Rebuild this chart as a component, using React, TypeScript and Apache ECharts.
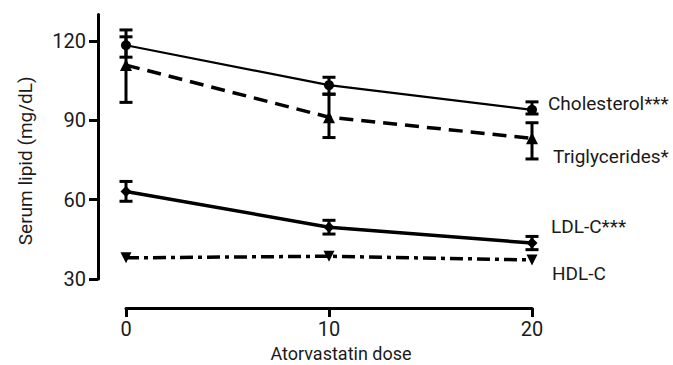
import React, { useEffect, useRef } from "react";
import * as echarts from "echarts";

const doses = [0, 10, 20];
const yTicks = [30, 60, 90, 120];

const cholesterol = [118.4, 103.3, 94.0];
const cholesterolLow = [113.9, 99.9, 92.4];
const cholesterolHigh = [124.2, 106.3, 97.0];

const triglycerides = [110.9, 91.2, 83.2];
const triglyceridesLow = [96.8, 83.5, 75.4];
const triglyceridesHigh = [121.6, 99.9, 89.1];

const ldl = [63.1, 49.6, 43.6];
const ldlLow = [59.4, 47.0, 41.1];
const ldlHigh = [66.9, 52.2, 46.1];

const hdl = [38.0, 38.6, 37.2];

const seriesNames = ["Cholesterol***", "Triglycerides*", "LDL-C***", "HDL-C"];

const FONT = "Roboto, 'Noto Sans', sans-serif";

function lineData(values: number[], name: string, offset: number[]) {
  return values.map((v, i) => {
    const item: any = { value: [doses[i], v] };
    if (i === values.length - 1) {
      item.label = {
        show: true,
        position: "right",
        distance: 0,
        offset,
        formatter: name,
        color: "#1a1a1a",
        fontSize: 19,
        fontFamily: FONT,
      };
    }
    return item;
  });
}

function errData(low: number[], high: number[]) {
  return low.map((l, i) => [doses[i], l, high[i]]);
}

const errorRender = (params: any, api: any) => {
  const x = api.value(0);
  const lo = api.value(1);
  const hi = api.value(2);
  const pHi = api.coord([x, hi]);
  const pLo = api.coord([x, lo]);
  const w = 6.5;
  const st = { stroke: "#000", lineWidth: 3 };
  return {
    type: "group",
    children: [
      { type: "line", shape: { x1: pHi[0], y1: pHi[1], x2: pLo[0], y2: pLo[1] }, style: st },
      { type: "line", shape: { x1: pHi[0] - w, y1: pHi[1], x2: pHi[0] + w, y2: pHi[1] }, style: st },
      { type: "line", shape: { x1: pLo[0] - w, y1: pLo[1], x2: pLo[0] + w, y2: pLo[1] }, style: st },
    ],
  };
};

function errSeries(low: number[], high: number[]) {
  return {
    type: "custom",
    renderItem: errorRender,
    data: errData(low, high),
    encode: { x: 0, y: [1, 2] },
    z: 3,
    silent: true,
  };
}

export default function App() {
  const ref = useRef<HTMLDivElement>(null);
  useEffect(() => {
    if (!ref.current) return;
    const chart = echarts.init(ref.current, undefined, { renderer: "svg" });
    const option: any = {
      animation: false,
      backgroundColor: "#ffffff",
      grid: { left: 126, right: 141, top: 14.6, bottom: 86, containLabel: false, outerBoundsMode: "none" },
      xAxis: {
        type: "value",
        min: 0,
        max: 20,
        interval: 10,
        offset: 29,
        axisLine: { show: true, onZero: false, lineStyle: { color: "#000", width: 3 } },
        axisTick: { show: true, length: 9, lineStyle: { color: "#000", width: 3 } },
        axisLabel: { color: "#1a1a1a", fontSize: 20, fontFamily: FONT, margin: 11 },
        splitLine: { show: false },
        name: "Atorvastatin dose",
        nameLocation: "middle",
        nameGap: 36,
        nameMoveOverlap: false,
        nameTextStyle: { color: "#1a1a1a", fontSize: 18, fontFamily: FONT, padding: [0, 0, 0, 24] },
      },
      yAxis: {
        type: "value",
        min: 30,
        max: 130,
        interval: 30,
        offset: 28,
        axisLine: { show: true, onZero: false, lineStyle: { color: "#000", width: 3 } },
        axisTick: { show: true, length: 9, customValues: yTicks, lineStyle: { color: "#000", width: 3 } },
        axisLabel: { color: "#1a1a1a", fontSize: 20, fontFamily: FONT, margin: 12, customValues: yTicks },
        splitLine: { show: false },
        name: "Serum lipid (mg/dL)",
        nameLocation: "middle",
        nameGap: 63,
        nameMoveOverlap: false,
        nameTextStyle: { color: "#1a1a1a", fontSize: 19, fontFamily: FONT, padding: [0, 28, 0, 0] },
      },
      series: [
        errSeries(cholesterolLow, cholesterolHigh),
        errSeries(triglyceridesLow, triglyceridesHigh),
        errSeries(ldlLow, ldlHigh),
        {
          type: "line",
          name: seriesNames[0],
          data: lineData(cholesterol, seriesNames[0], [11, -6]),
          symbol: "circle",
          symbolSize: 10,
          itemStyle: { color: "#000" },
          lineStyle: { color: "#000", width: 2.2, type: "solid" },
          z: 4,
        },
        {
          type: "line",
          name: seriesNames[1],
          data: lineData(triglycerides, seriesNames[1], [15, 18]),
          symbol: "triangle",
          symbolSize: 12,
          itemStyle: { color: "#000" },
          lineStyle: { color: "#000", width: 3.5, type: [14, 8] },
          z: 4,
        },
        {
          type: "line",
          name: seriesNames[2],
          data: lineData(ldl, seriesNames[2], [13.5, -17]),
          symbol: "diamond",
          symbolSize: 11,
          itemStyle: { color: "#000" },
          lineStyle: { color: "#000", width: 3.5, type: "solid" },
          z: 4,
        },
        {
          type: "line",
          name: seriesNames[3],
          data: lineData(hdl, seriesNames[3], [14.5, 14]),
          symbol: "triangle",
          symbolRotate: 180,
          symbolSize: 11,
          itemStyle: { color: "#000" },
          lineStyle: { color: "#000", width: 3.5, type: [13, 5, 4, 5] },
          z: 4,
        },
      ],
    };
    chart.setOption(option);
    return () => chart.dispose();
  }, []);
  return (
    <div
      ref={ref}
      style={{ position: "fixed", left: 0, top: 0, width: 673, height: 365, background: "#fff" }}
    />
  );
}
